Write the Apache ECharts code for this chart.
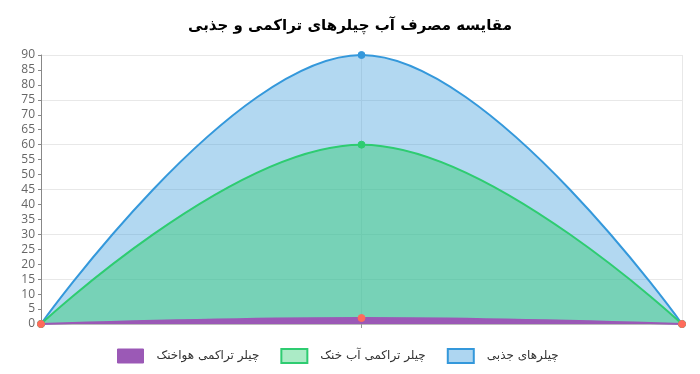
<!DOCTYPE html>
<html><head><meta charset="utf-8">
<script src="https://cdn.jsdelivr.net/npm/echarts@6/dist/echarts.min.js"></script>
<style>html,body{margin:0;padding:0;background:#fff}#c{width:700px;height:374px}</style>
</head><body><div id="c"></div>
<script>
const titleText = 'مقایسه مصرف آب چیلرهای تراکمی و جذبی';
const categories = ['', '', ''];
const seriesNames = ['چیلرهای جذبی', 'چیلر تراکمی آب خنک', 'چیلر تراکمی هواخنک'];
const absorptionValues = [0, 90, 0];
const waterCooledValues = [0, 60, 0];
const airCooledValues = [0, 2, 0];

const chart = echarts.init(document.getElementById('c'));
function mk(name, data, line, fill, point, z) {
  return {
    name, type: 'line', data, smooth: 0.4, z,
    symbol: 'circle', symbolSize: 7,
    lineStyle: {color: line, width: 2},
    itemStyle: {color: point, borderColor: point},
    areaStyle: {color: fill, opacity: 1, origin: 'start'},
    emphasis: {disabled: true}
  };
}
chart.setOption({
  animation: false,
  title: {text: titleText, left: 'center', top: 14,
    textStyle: {fontFamily: 'DejaVu Sans, sans-serif', fontSize: 15, fontWeight: 'bold', color: '#000'}},
  grid: {left: 41, right: 18, top: 55, bottom: 50, containLabel: false},
  legend: {
    bottom: 5, left: 112, itemWidth: 26, itemHeight: 14, itemGap: 21,
    textStyle: {fontFamily: 'DejaVu Sans, sans-serif', fontSize: 12, color: '#333', padding: [0, 0, 0, 8]},
    data: [
      {name: seriesNames[2], icon: 'rect', itemStyle: {color: '#9b59b6', borderColor: '#9b59b6', borderWidth: 1}},
      {name: seriesNames[1], icon: 'rect', itemStyle: {color: 'rgba(46,204,113,0.4)', borderColor: '#2ecc71', borderWidth: 2}},
      {name: seriesNames[0], icon: 'rect', itemStyle: {color: 'rgba(52,152,219,0.4)', borderColor: '#3498db', borderWidth: 2}}
    ]
  },
  xAxis: {
    type: 'category', data: categories, boundaryGap: false,
    axisLine: {lineStyle: {color: '#bbb'}},
    axisTick: {show: true, length: 4, lineStyle: {color: '#999'}},
    axisLabel: {show: false},
    splitLine: {show: true, lineStyle: {color: '#e8e8e8'}}
  },
  yAxis: {
    type: 'value', min: 0, max: 90, interval: 5,
    axisLine: {show: true, lineStyle: {color: '#888'}},
    axisTick: {show: true, length: 3, lineStyle: {color: '#888'}},
    axisLabel: {color: '#666', fontSize: 12, margin: 6, fontFamily: 'Open Sans, sans-serif'},
    splitLine: {show: true, lineStyle: {color: ['#e8e8e8', 'rgba(0,0,0,0)', 'rgba(0,0,0,0)']}}
  },
  series: [
    mk(seriesNames[0], absorptionValues, '#3498db', 'rgba(52,152,219,0.38)', '#3498db', 2),
    mk(seriesNames[1], waterCooledValues, '#2ecc71', 'rgba(46,204,113,0.45)', '#2ecc71', 3),
    mk(seriesNames[2], airCooledValues, '#9b59b6', '#9b59b6', '#ff6b5b', 4)
  ]
});
</script></body></html>
